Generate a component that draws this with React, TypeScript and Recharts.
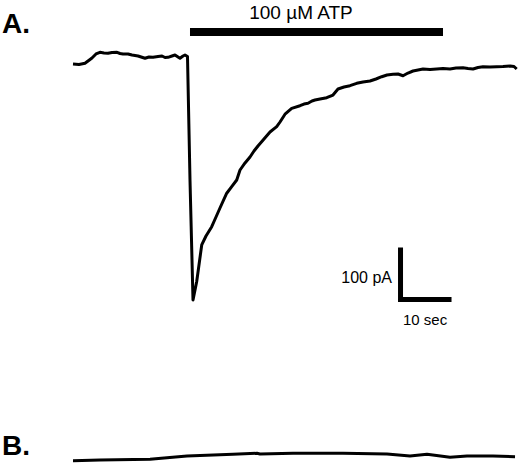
import React from "react";
import { LineChart, Line, XAxis, YAxis, ReferenceArea } from "recharts";

// Panel A: whole-cell current trace (time in s, current in pA)
const TIME_A = [
  0, 1.18, 2.35, 3.67, 4.51, 5.29, 6.08, 6.86, 7.65, 8.63, 9.22, 9.8, 10.78, 11.57, 12.75, 14.12,
  14.9, 15.69, 16.67, 17.45, 18.04, 18.63, 19.41, 20.0, 20.59, 20.98, 21.57, 21.96, 22.45, 22.94,
  23.53, 24.25, 25.24, 26.08, 27.2, 28.04, 28.82, 30.14, 31.12, 32.1, 32.75, 33.73, 34.71, 35.49,
  36.27, 37.45, 38.63, 39.94, 40.59, 41.57, 42.88, 44.51, 45.29, 46.08, 46.86, 47.45, 48.43, 49.75,
  50.98, 51.96, 53.14, 54.31, 55.63, 56.86, 58.24, 59.41, 60.53, 61.57, 62.75, 63.73, 64.71, 65.69,
  66.67, 67.65, 68.63, 70.0, 71.31, 72.55, 73.92, 75.1, 76.47, 77.45, 78.43, 79.41, 80.39, 81.76,
  83.08, 84.31, 85.69, 86.47, 87.0,
];
const CURRENT_A = [
  -13.5, -14.4, -12.1, -2.5, 5.8, 9.0, 7.7, 7.1, 8.7, 9.0, 6.7, 5.8, 5.8, 3.8, 1.9, -2.5,
  0, -0.6, 1.0, 1.9, -1.0, -0.6, 1.9, 3.8, 0, -2.5, 1.9, 3.8, 1.0, -236.5,
  -467.3, -432.1, -361.5, -344.2, -326.3, -307.7, -290.4, -262.0, -249.4, -236.5, -217.3, -203.8, -192.3, -180.8,
  -171.2, -157.7, -144.2, -134.0, -125.0, -110.0, -98.7, -93.7, -90.4, -89.0, -84.6, -82.7, -80.8, -78.3,
  -73.1, -61.5, -57.7, -55.2, -50.6, -48.1, -46.2, -42.3, -37.9, -34.6, -33.3, -32.7, -36.0, -30.8,
  -26.9, -25.0, -23.1, -24.0, -23.1, -22.1, -23.1, -21.2, -20.6, -22.1, -23.1, -20.2, -18.7, -19.2,
  -18.7, -18.3, -17.3, -18.3, -23.1,
];

// Panel B: trace (time in s, current in pA relative to its own baseline)
const TIME_B = [0, 5.29, 15.1, 18.43, 22.35, 31.37, 36.08, 36.67, 43.14, 52.94, 61.57, 66.08, 69.41, 73.92, 77.25, 82.35, 86.67];
const CURRENT_B = [-7.1, -5.8, -4.4, -1.3, 1.9, 5.2, 7.1, 5.8, 7.1, 7.1, 5.8, 1.9, 5.2, -0.6, 1.9, 1.9, 0.6];

// ATP application window (s)
const ATP_WINDOW = [22.94, 72.55];
const ATP_LABEL = "100 µM ATP";

// Scale bar: 10 sec, 100 pA; corner position (s, pA)
const SCALE_CORNER = [64.22, -466.3];
const SCALE_TIME = 10;
const SCALE_CURRENT = 100;

const W = 520;
const H = 463;
const PX_PER_S = 5.1;
const PX_PER_PA = 0.52;
const X0 = 73; // pixel of t = 0
const A_ZERO = 57; // pixel of 0 pA in panel A
const B_ZERO = 457; // pixel of 0 pA in panel B

const dataA = TIME_A.map((t, k) => ({ t, i: CURRENT_A[k] }));
const dataB = TIME_B.map((t, k) => ({ t, i: CURRENT_B[k] }));
const scaleData = [
  { t: SCALE_CORNER[0], i: SCALE_CORNER[1] + SCALE_CURRENT },
  { t: SCALE_CORNER[0], i: SCALE_CORNER[1] },
  { t: SCALE_CORNER[0] + SCALE_TIME, i: SCALE_CORNER[1] },
];

const xDomain = [-X0 / PX_PER_S, (W - X0) / PX_PER_S];
const yDomainA = [(A_ZERO - H) / PX_PER_PA, A_ZERO / PX_PER_PA];
const yDomainB = [(B_ZERO - H) / PX_PER_PA, B_ZERO / PX_PER_PA];
const atpBarY = [(A_ZERO - 36) / PX_PER_PA, (A_ZERO - 28) / PX_PER_PA];

const layer: React.CSSProperties = { position: "absolute", left: 0, top: 0, width: W, height: H };
const FONT = "'Liberation Sans', Arial, Helvetica, sans-serif";
const margin0 = { top: 0, right: 0, bottom: 0, left: 0 };

export default function App() {
  return (
    <div style={{ position: "absolute", left: 0, top: 0, width: W, height: H, background: "#fff" }}>
      <div style={layer}>
        <LineChart width={W} height={H} margin={margin0} data={dataA}>
          <XAxis type="number" dataKey="t" domain={xDomain} allowDataOverflow hide />
          <YAxis type="number" domain={yDomainA} allowDataOverflow hide />
          <ReferenceArea
            x1={ATP_WINDOW[0]}
            x2={ATP_WINDOW[1]}
            y1={atpBarY[0]}
            y2={atpBarY[1]}
            fill="#000"
            fillOpacity={1}
            stroke="none"
            ifOverflow="visible"
          />
          <Line
            dataKey="i"
            type="linear"
            stroke="#000"
            strokeWidth={3}
            strokeLinejoin="round"
            dot={false}
            activeDot={false}
            isAnimationActive={false}
          />
        </LineChart>
      </div>
      <div style={layer}>
        <LineChart width={W} height={H} margin={margin0} data={scaleData}>
          <XAxis type="number" dataKey="t" domain={xDomain} allowDataOverflow hide />
          <YAxis type="number" domain={yDomainA} allowDataOverflow hide />
          <Line
            dataKey="i"
            type="linear"
            stroke="#000"
            strokeWidth={5}
            strokeLinejoin="miter"
            strokeLinecap="butt"
            dot={false}
            activeDot={false}
            isAnimationActive={false}
          />
        </LineChart>
      </div>
      <div style={layer}>
        <LineChart width={W} height={H} margin={margin0} data={dataB}>
          <XAxis type="number" dataKey="t" domain={xDomain} allowDataOverflow hide />
          <YAxis type="number" domain={yDomainB} allowDataOverflow hide />
          <Line
            dataKey="i"
            type="linear"
            stroke="#000"
            strokeWidth={3}
            strokeLinejoin="round"
            dot={false}
            activeDot={false}
            isAnimationActive={false}
          />
        </LineChart>
      </div>
      <svg style={{ ...layer, pointerEvents: "none" }} width={W} height={H}>
        <g fontFamily={FONT} fill="#000">
          <text x={2} y={33} fontSize={28} fontWeight="bold">A.</text>
          <text x={2} y={455} fontSize={28} fontWeight="bold">B.</text>
          <text x={301} y={18.5} fontSize={19} textAnchor="middle">{ATP_LABEL}</text>
          <text x={392} y={283} fontSize={16} textAnchor="end">100 pA</text>
          <text x={403} y={325} fontSize={15}>10 sec</text>
        </g>
      </svg>
    </div>
  );
}
